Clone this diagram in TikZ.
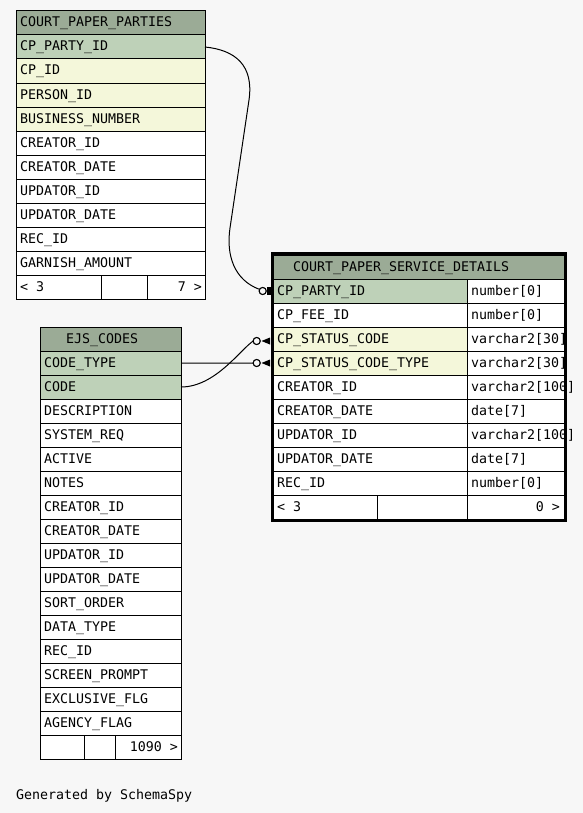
\documentclass[tikz,border=0pt]{standalone}
\usepackage{fontspec}
\newfontfamily\monof{DejaVu Sans Mono}
\definecolor{bg}{HTML}{F7F7F7}
\definecolor{hdr}{HTML}{9BAB96}
\definecolor{pk}{HTML}{BED1B8}
\definecolor{fk}{HTML}{F4F7DA}
\tikzset{
  cellbox/.style={draw=black, line width=1bp, rectangle, inner sep=0pt, outer sep=0pt, minimum height=24bp},
  celltext/.style={inner sep=0pt, outer sep=0pt, font=\monof\fontsize{13.3bp}{15bp}\selectfont},
  odotc/.style={circle, draw=black, line width=1bp, fill=bg, minimum size=7bp, inner sep=0pt, outer sep=0pt},
  conn/.style={draw=black, line width=1bp},
  thickframe/.style={draw=black, line width=3bp},
}
\newcommand\tcell[6]{%
  \node[cellbox, fill=#5, minimum width=#4bp, anchor=north west] (#1) at (#2,#3) {};
  \node[celltext, anchor=base west] (#1t) at ({#2+4},{#3+16}) {#6};}
\begin{document}
\begin{tikzpicture}[x=1bp,y=-1bp]
\fill[bg] (0,0) rectangle (583,813);
\useasboundingbox (0,0) rectangle (583,813);

% ---- COURT_PAPER_PARTIES
\tcell{ah}{16}{11}{189}{hdr}{COURT\_PAPER\_PARTIES}
\foreach \t/\c [count=\i] in {CP\_PARTY\_ID/pk, CP\_ID/fk, PERSON\_ID/fk, BUSINESS\_NUMBER/fk,
  CREATOR\_ID/white, CREATOR\_DATE/white, UPDATOR\_ID/white, UPDATOR\_DATE/white,
  REC\_ID/white, GARNISH\_AMOUNT/white}
  {\tcell{a\i}{16}{11+24*\i}{189}{\c}{\t}}
\tcell{af1}{16}{275}{85}{white}{< 3}
\node[cellbox, fill=white, minimum width=46bp, anchor=north west] (af2) at (101,275) {};
\node[cellbox, fill=white, minimum width=58bp, anchor=north west] (af3) at (147,275) {};
\node[celltext, anchor=base east] (af3t) at (202,291) {7 >};

% ---- EJS_CODES
\node[cellbox, fill=hdr, minimum width=141bp, anchor=north west] (bh) at (40,327) {};
\node[celltext, anchor=base west] (bht) at (66,343) {EJS\_CODES};
\foreach \t/\c [count=\i] in {CODE\_TYPE/pk, CODE/pk, DESCRIPTION/white, SYSTEM\_REQ/white,
  ACTIVE/white, NOTES/white, CREATOR\_ID/white, CREATOR\_DATE/white, UPDATOR\_ID/white,
  UPDATOR\_DATE/white, SORT\_ORDER/white, DATA\_TYPE/white, REC\_ID/white,
  SCREEN\_PROMPT/white, EXCLUSIVE\_FLG/white, AGENCY\_FLAG/white}
  {\tcell{b\i}{40}{327+24*\i}{141}{\c}{\t}}
\node[cellbox, fill=white, minimum width=44bp, anchor=north west] (bf1) at (40,735) {};
\node[cellbox, fill=white, minimum width=31bp, anchor=north west] (bf2) at (84,735) {};
\node[cellbox, fill=white, minimum width=66bp, anchor=north west] (bf3) at (115,735) {};
\node[celltext, anchor=base east] (bf3t) at (178,751) {1090 >};

% ---- COURT_PAPER_SERVICE_DETAILS
\node[cellbox, fill=hdr, minimum width=291bp, anchor=north west] (ch) at (273,255) {};
\node[celltext, anchor=base west] (cht) at (293,271) {COURT\_PAPER\_SERVICE\_DETAILS};
\foreach \t/\c/\ty [count=\i] in {CP\_PARTY\_ID/pk/number[0], CP\_FEE\_ID/white/number[0],
  CP\_STATUS\_CODE/fk/varchar2[30], CP\_STATUS\_CODE\_TYPE/fk/varchar2[30],
  CREATOR\_ID/white/varchar2[100], CREATOR\_DATE/white/date[7],
  UPDATOR\_ID/white/varchar2[100], UPDATOR\_DATE/white/date[7], REC\_ID/white/number[0]}
  {\tcell{c\i}{273}{255+24*\i}{194}{\c}{\t}
   \tcell{d\i}{467}{255+24*\i}{97}{white}{\ty}}
\tcell{cf1}{273}{495}{104}{white}{< 3}
\node[cellbox, fill=white, minimum width=90bp, anchor=north west] (cf2) at (377,495) {};
\node[cellbox, fill=white, minimum width=97bp, anchor=north west] (cf3) at (467,495) {};
\node[celltext, anchor=base east] (cf3t) at (560,511) {0 >};
\draw[thickframe] (272,253.5) rectangle (565.2,520);

% ---- connectors
\node[odotc] (o1) at (262.7,291) {};
\node[odotc] (o3) at (256.7,341) {};
\node[odotc] (o4) at (256.7,363) {};
\draw[conn] (a1.east) .. controls (235,50) and (254,65) .. (249,100)
  -- (230,228) .. controls (226,255) and (234,280) .. (o1.153);
\draw[conn] (b1.east) -- (o4.west);
\draw[conn] (b2.east) .. controls (215,387) and (240,350) .. (o3.west);
\node[odotc] at (o1) {};
\node[odotc] at (o3) {};
\node[odotc] at (o4) {};
\fill[black] (266.7,287) rectangle (270.7,295);
\fill[black] (261.5,341) -- (270,337.5) -- (270,344.5) -- cycle;
\fill[black] (261.5,363) -- (270,359.5) -- (270,366.5) -- cycle;

\node[celltext, anchor=base west] (gen) at (16,799) {Generated by SchemaSpy};
\end{tikzpicture}
\end{document}
